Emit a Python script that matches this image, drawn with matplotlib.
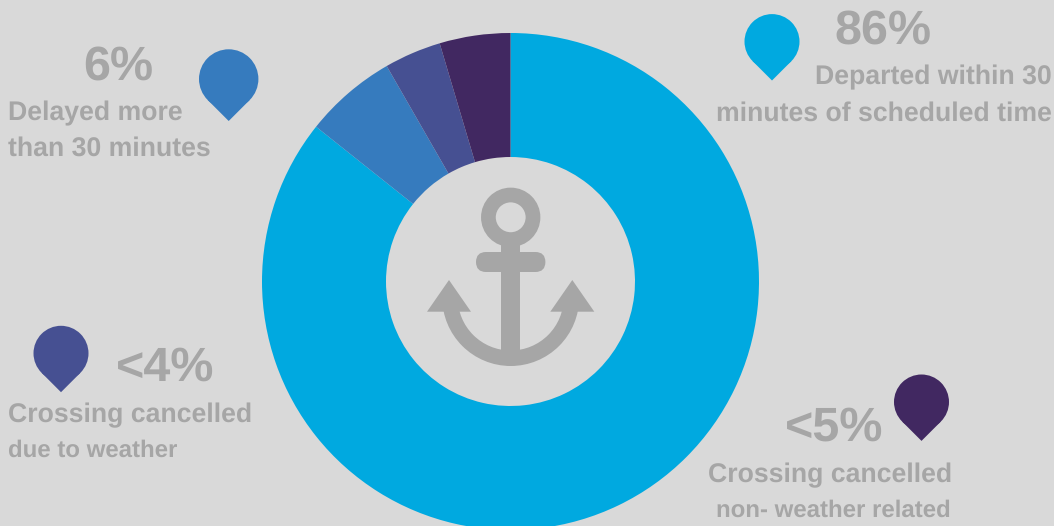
import matplotlib.pyplot as plt
from matplotlib.patches import Circle, Wedge, Polygon, FancyBboxPatch, Rectangle

W, H = 1054, 526
BG = '#D9D9D9'
GREY = '#A6A6A6'

categories = ['Departed within 30 minutes of scheduled time', 'Delayed more than 30 minutes',
              'Crossing cancelled due to weather', 'Crossing cancelled non- weather related']
shares = [85.7, 6.0, 3.7, 4.6]
colors = ['#00A9E0', '#367BBE', '#465092', '#412861']
percent_labels = ['86%', '6%', '<4%', '<5%']


def py(y):
    # picture pixels count from the top, the axes from the bottom
    return H - y


def pin(ax, x, y, r, color):
    d = r * 0.7071
    ax.add_patch(Circle((x, py(y)), r, fc=color, ec='none', zorder=3))
    ax.add_patch(Polygon([(x - d, py(y + d)), (x + d, py(y + d)), (x, py(y + r * 1.4142))],
                         fc=color, ec='none', zorder=3))


def anchor(ax, x):
    parts = [
        Wedge((x, py(297.5)), 68.5, 180, 360, width=15.5, fc=GREY, ec='none'),
        Circle((x, py(217.3)), 22.3, fc='none', ec=GREY, lw=14.7 * 0.72),
        Rectangle((x - 9.7, py(356)), 19.4, 112, fc=GREY, ec='none'),
        FancyBboxPatch((x - 24.7, py(262)), 49.4, 0, boxstyle='round,pad=10,rounding_size=10',
                       fc=GREY, ec='none'),
        Polygon([(427, py(311.7)), (471, py(311.7)), (449, py(280))], fc=GREY, ec='none'),
        Polygon([(550.3, py(311.7)), (594.3, py(311.7)), (572.3, py(280))], fc=GREY, ec='none'),
    ]
    for p in parts:
        p.set_zorder(4)
        ax.add_patch(p)


plt.rcParams['font.family'] = ['Liberation Sans', 'DejaVu Sans']
plt.rcParams['text.hinting'] = 'no_hinting'
plt.rcParams['text.hinting_factor'] = 8
fig = plt.figure(figsize=(W / 100, H / 100), dpi=100, facecolor=BG)
ax = fig.add_axes([0, 0, 1, 1])

ax.pie(shares, colors=colors, startangle=90, counterclock=False, center=(510.5, py(281.5)),
       radius=248.5, wedgeprops=dict(width=124, linewidth=0), frame=True)
ax.set_xlim(0, W)
ax.set_ylim(0, H)
ax.axis('off')

anchor(ax, 510.7)

pin(ax, 772, 41.6, 27.5, colors[0])
pin(ax, 228.7, 79, 29.7, colors[1])
pin(ax, 61, 353.3, 27.5, colors[2])
pin(ax, 921.5, 402, 27.5, colors[3])

big = dict(fontsize=34.9, fontweight='bold', color=GREY, va='baseline', ha='center')
ax.text(882.5, py(43.5), percent_labels[0], **big)
ax.text(118, py(79.3), percent_labels[1], **big)
ax.text(165, py(381), percent_labels[2], **big)
ax.text(834, py(441), percent_labels[3], **big)

sub = dict(fontsize=19.2, fontweight='bold', color=GREY, va='baseline')
small = dict(sub, fontsize=17.3)
ax.text(1052, py(84.5), 'Departed within 30', ha='right', **sub)
ax.text(1052, py(120.5), 'minutes of scheduled time', ha='right', **sub)
ax.text(8, py(120), 'Delayed more', ha='left', **sub)
ax.text(8, py(155.5), 'than 30 minutes', ha='left', **sub)
ax.text(8, py(422.5), 'Crossing cancelled', ha='left', **sub)
ax.text(8, py(457), 'due to weather', ha='left', **small)
ax.text(952.5, py(482.5), 'Crossing cancelled', ha='right', **sub)
ax.text(951, py(517), 'non- weather related', ha='right', **small)

fig.savefig('out.png', dpi=100, facecolor=BG)
